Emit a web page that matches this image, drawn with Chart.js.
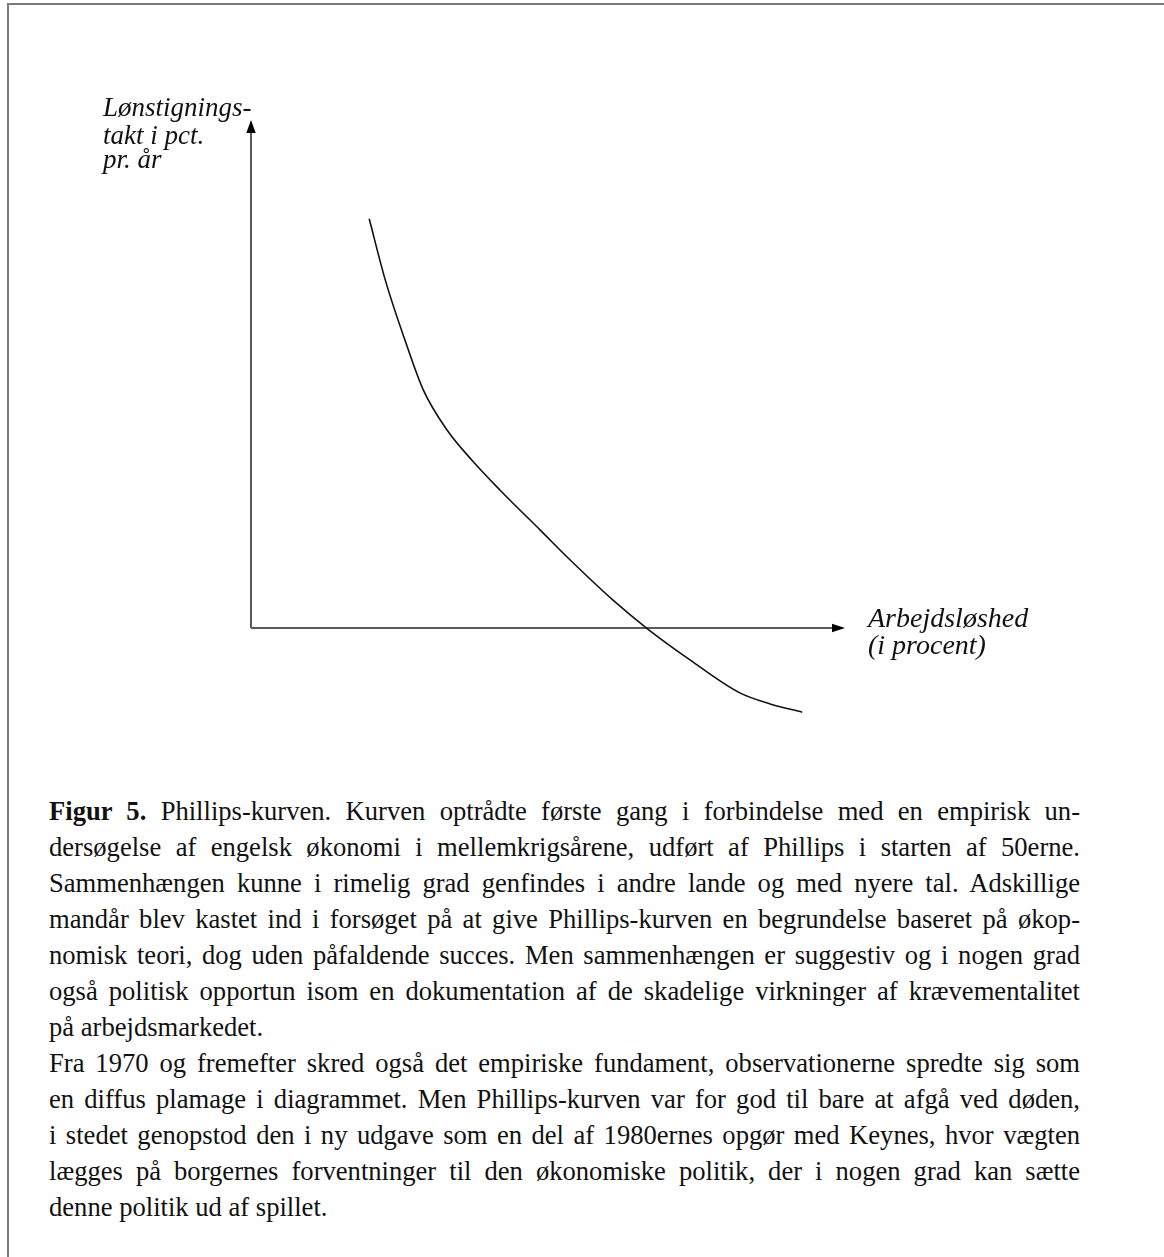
<!DOCTYPE html>
<html lang="da">
<head>
<meta charset="utf-8">
<script src="https://cdn.jsdelivr.net/npm/chart.js@4"></script>
<style>
    html, body { margin: 0; padding: 0; background: #fff; }
    body { width: 1164px; height: 1257px; position: relative; overflow: hidden; }
    #frame {
        position: absolute; left: 7px; top: 3px; width: 1200px; height: 1300px;
        border-top: 2px solid #7a7a7a; border-left: 2px solid #7a7a7a;
    }
    #wrap { position: absolute; left: 0; top: 0; width: 1164px; height: 760px; }
    #caption {
        position: absolute; left: 49px; top: 793px; width: 1031px;
        font-family: "Liberation Serif", "DejaVu Serif", serif;
        font-size: 26.6px; line-height: 36px; color: #111;
    }
    #caption div { text-align: justify; text-align-last: justify; white-space: nowrap; }
    #caption div.last { text-align-last: left; }
</style>
</head>
<body>
<div id="frame"></div>
<div id="wrap"><canvas id="phillips" width="1164" height="760"></canvas></div>
<div id="caption">
    <div><b>Figur 5.</b> Phillips-kurven. Kurven optrådte første gang i forbindelse med en empirisk un-</div>
    <div>dersøgelse af engelsk økonomi i mellemkrigsårene, udført af Phillips i starten af 50erne.</div>
    <div>Sammenhængen kunne i rimelig grad genfindes i andre lande og med nyere tal. Adskillige</div>
    <div>mandår blev kastet ind i forsøget på at give Phillips-kurven en begrundelse baseret på økop-</div>
    <div>nomisk teori, dog uden påfaldende succes. Men sammenhængen er suggestiv og i nogen grad</div>
    <div>også politisk opportun isom en dokumentation af de skadelige virkninger af krævementalitet</div>
    <div class="last">på arbejdsmarkedet.</div>
    <div>Fra 1970 og fremefter skred også det empiriske fundament, observationerne spredte sig som</div>
    <div>en diffus plamage i diagrammet. Men Phillips-kurven var for god til bare at afgå ved døden,</div>
    <div>i stedet genopstod den i ny udgave som en del af 1980ernes opgør med Keynes, hvor vægten</div>
    <div>lægges på borgernes forventninger til den økonomiske politik, der i nogen grad kan sætte</div>
    <div class="last">denne politik ud af spillet.</div>
</div>
<script>
// Phillips curve (unemployment vs. wage growth, arbitrary units)
const unemployment = [1.99, 2.26, 2.59, 2.90, 3.30, 3.72, 4.19, 4.87, 5.37, 6.09, 6.68, 7.39, 8.23, 8.74, 9.28];
const wageGrowth   = [7.44, 6.33, 5.24, 4.33, 3.60, 3.05, 2.51, 1.78, 1.24, 0.51, -0.02, -0.58, -1.18, -1.38, -1.53];

const xRange = [0, 10];
const yRange = [-1.6, 9.2];

const yLabelLines = ['Lønstignings-', 'takt i pct.', 'pr. år'];
const xLabelLines = ['Arbejdsløshed', '(i procent)'];

const points = unemployment.map((u, i) => ({ x: u, y: wageGrowth[i] }));

function arrow(ctx, x, y, dir) {
    ctx.beginPath();
    if (dir === 'up') {
        ctx.moveTo(x, y);
        ctx.lineTo(x - 4.7, y + 13);
        ctx.lineTo(x + 4.7, y + 13);
    } else {
        ctx.moveTo(x, y);
        ctx.lineTo(x - 13, y - 4.2);
        ctx.lineTo(x - 13, y + 4.2);
    }
    ctx.closePath();
    ctx.fill();
}

// draws the two arrowed axes and their italic labels
const axesPlugin = {
    id: 'axesPlugin',
    beforeDatasetsDraw(chart) {
        const { ctx, chartArea, scales } = chart;
        const x0 = scales.x.getPixelForValue(0);
        const y0 = scales.y.getPixelForValue(0);
        const xEnd = scales.x.getPixelForValue(xRange[1]);
        const yTop = chartArea.top - 2;

        ctx.save();
        // y axis
        ctx.strokeStyle = '#000';
        ctx.lineWidth = 1.3;
        ctx.beginPath();
        ctx.moveTo(x0, y0);
        ctx.lineTo(x0, yTop + 10);
        ctx.stroke();
        ctx.fillStyle = '#000';
        arrow(ctx, x0, yTop, 'up');

        // x axis
        ctx.strokeStyle = '#5a5a5a';
        ctx.lineWidth = 2;
        ctx.beginPath();
        ctx.moveTo(x0, y0);
        ctx.lineTo(xEnd - 10, y0);
        ctx.stroke();
        arrow(ctx, xEnd, y0, 'right');

        // labels
        ctx.fillStyle = '#111';
        ctx.textBaseline = 'alphabetic';
        ctx.textAlign = 'left';
        ctx.font = 'italic 27px "Liberation Serif", "DejaVu Serif", serif';
        const yBase = [116, 144, 168];
        yLabelLines.forEach((t, i) => ctx.fillText(t, 103, yBase[i]));
        ctx.font = 'italic 28px "Liberation Serif", "DejaVu Serif", serif';
        xLabelLines.forEach((t, i) => ctx.fillText(t, xEnd + 23, y0 - 1 + i * 27));
        ctx.restore();
    }
};

new Chart(document.getElementById('phillips'), {
    type: 'scatter',
    data: {
        datasets: [{
            data: points,
            showLine: true,
            borderColor: '#111',
            borderWidth: 1.6,
            pointRadius: 0,
            cubicInterpolationMode: 'monotone',
            clip: false,
        }],
    },
    options: {
        responsive: false,
        animation: false,
        events: [],
        layout: { padding: { left: 251, right: 319, top: 122, bottom: 44 } },
        plugins: { legend: { display: false }, tooltip: { enabled: false } },
        scales: {
            x: { type: 'linear', display: false, min: xRange[0], max: xRange[1] },
            y: { type: 'linear', display: false, min: yRange[0], max: yRange[1] },
        },
    },
    plugins: [axesPlugin],
});
</script>
</body>
</html>
